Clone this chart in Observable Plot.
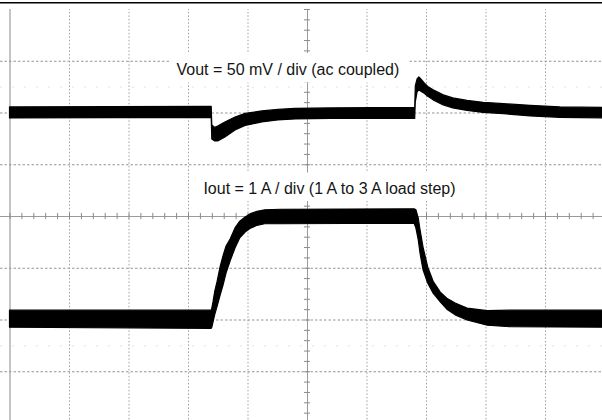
<!DOCTYPE html>
<html>
<head>
<meta charset="utf-8">
<script src="https://cdn.jsdelivr.net/npm/d3@7"></script>
<script src="https://cdn.jsdelivr.net/npm/@observablehq/plot@0.6"></script>
<style>
  html, body { margin: 0; padding: 0; background: #fff; overflow: hidden; }
  svg { overflow: hidden; display: block; }
</style>
</head>
<body>
<div id="chart"></div>
<script>
// Time in screen divisions (0..10)
// Vout: AC-coupled deviation in mV (50 mV/div), upper / lower edge of the noisy trace
const voutT  = [0, 3.39, 3.40, 3.45, 3.50, 3.62, 3.79, 3.96, 4.24, 4.51, 4.80, 5.39, 6.81, 6.82, 6.85, 6.88, 6.92, 6.97, 7.03, 7.12, 7.29, 7.45, 7.69, 7.96, 8.24, 8.75, 9.25, 10];
const voutHi = [5.4, 5.9, -12.0, -14.4, -13.0, -9.1, -4.3, -0.9, 1.5, 3.0, 4.0, 4.4, 4.9, 25.7, 32.5, 34.4, 32.0, 28.6, 25.2, 21.9, 17.0, 14.1, 11.7, 9.8, 8.8, 6.9, 5.4, 4.9];
const voutLo = [-5.2, -4.7, -25.5, -27.5, -27.5, -23.6, -16.8, -12.5, -9.1, -7.2, -6.2, -5.7, -5.7, 10.3, 19.9, 21.9, 20.4, 18.5, 15.6, 12.2, 7.4, 4.4, 2.0, 0.1, -0.9, -3.3, -4.7, -5.2];

// Iout in A (1 A/div), upper / lower edge of the noisy trace
const ioutT  = [0, 3.39, 3.40, 3.42, 3.45, 3.49, 3.54, 3.59, 3.64, 3.71, 3.79, 3.87, 3.96, 4.04, 4.16, 4.29, 4.55, 6.80, 6.83, 6.87, 6.90, 6.95, 7.03, 7.12, 7.24, 7.35, 7.49, 7.69, 8.03, 8.41, 10];
const ioutHi = [1.18, 1.18, 1.22, 1.34, 1.55, 1.74, 2.02, 2.24, 2.42, 2.56, 2.77, 2.90, 2.98, 3.04, 3.09, 3.12, 3.13, 3.14, 3.12, 2.96, 2.73, 2.40, 2.01, 1.74, 1.53, 1.41, 1.32, 1.22, 1.17, 1.18, 1.18];
const ioutLo = [0.85, 0.83, 0.85, 0.95, 1.10, 1.26, 1.47, 1.67, 1.90, 2.14, 2.38, 2.58, 2.69, 2.76, 2.82, 2.85, 2.85, 2.86, 2.77, 2.54, 2.28, 1.96, 1.70, 1.51, 1.34, 1.20, 1.09, 0.99, 0.89, 0.86, 0.85];

// Channel scaling (division units)
const voutPerDiv = 50, voutOffsetDiv = 2;
const ioutPerDiv = 1, ioutOffsetA = 3;

// Graticule
const gridX = [1, 2, 3, 4, 6, 7, 8, 9];
const gridY = [-3, -2, -1, 1, 2, 3];
const faintY = [2.5, -2.5];
const minorX = d3.range(0, 10.001, 0.2);
const minorY = d3.range(-4, 4.001, 0.2);

const labels = [
  {text: "Vout = 50 mV / div (ac coupled)", t: 4.67, y: 2.83, x1: 2.70, x2: 6.70, y1: 2.58, y2: 3.15},
  {text: "Iout = 1 A / div (1 A to 3 A load step)", t: 5.37, y: 0.54, x1: 3.12, x2: 7.61, y1: 0.29, y2: 0.84}
];

const vout = voutT.map((t, i) => ({t, hi: voutHi[i], lo: voutLo[i]}));
const iout = ioutT.map((t, i) => ({t, hi: ioutHi[i], lo: ioutLo[i]}));

const chart = Plot.plot({
  width: 602,
  height: 420,
  margin: 0,
  x: {domain: [0, 10], range: [9.5, 604.5], axis: null},
  y: {domain: [-4, 4], range: [423, 9], axis: null},
  style: {fontFamily: "'Liberation Sans', Arial, sans-serif", background: "#fff", color: "#111"},
  marks: [
    Plot.ruleY([4.13], {stroke: "#000", strokeWidth: 1.6}),
    Plot.ruleX([0], {y1: -4.2, y2: 4, stroke: "#8a8a8a", strokeWidth: 1}),
    Plot.ruleY(faintY, {stroke: "#e2e2e2", strokeWidth: 1, strokeDasharray: "2,10"}),
    Plot.ruleX(gridX, {y1: -4.2, y2: 4, stroke: "#a0a0a0", strokeWidth: 1, strokeDasharray: "1.5,2"}),
    Plot.ruleY(gridY, {stroke: "#959595", strokeWidth: 1, strokeDasharray: "2.5,2"}),
    Plot.ruleX([5], {y1: -4.2, y2: 4, stroke: "#9a9a9a", strokeWidth: 1}),
    Plot.ruleY([0], {stroke: "#9a9a9a", strokeWidth: 1}),
    Plot.ruleX(minorX, {y1: -0.06, y2: 0.06, stroke: "#8a8a8a", strokeWidth: 1}),
    Plot.ruleY(minorY, {x1: 4.95, x2: 5.05, stroke: "#8a8a8a", strokeWidth: 1}),
    Plot.rect(labels, {x1: "x1", x2: "x2", y1: "y1", y2: "y2", fill: "#fff"}),
    Plot.text(labels, {x: "t", y: "y", text: "text", fontSize: 16, fill: "#151515", textAnchor: "middle"}),
    Plot.areaY(vout, {
      x: "t",
      y1: d => d.lo / voutPerDiv + voutOffsetDiv,
      y2: d => d.hi / voutPerDiv + voutOffsetDiv,
      fill: "#000", stroke: "#000", strokeWidth: 1.2, curve: "linear"
    }),
    Plot.areaY(iout, {
      x: "t",
      y1: d => (d.lo - ioutOffsetA) / ioutPerDiv,
      y2: d => (d.hi - ioutOffsetA) / ioutPerDiv,
      fill: "#000", stroke: "#000", strokeWidth: 1.2, curve: "linear"
    })
  ]
});
document.getElementById("chart").append(chart);
</script>
</body>
</html>
